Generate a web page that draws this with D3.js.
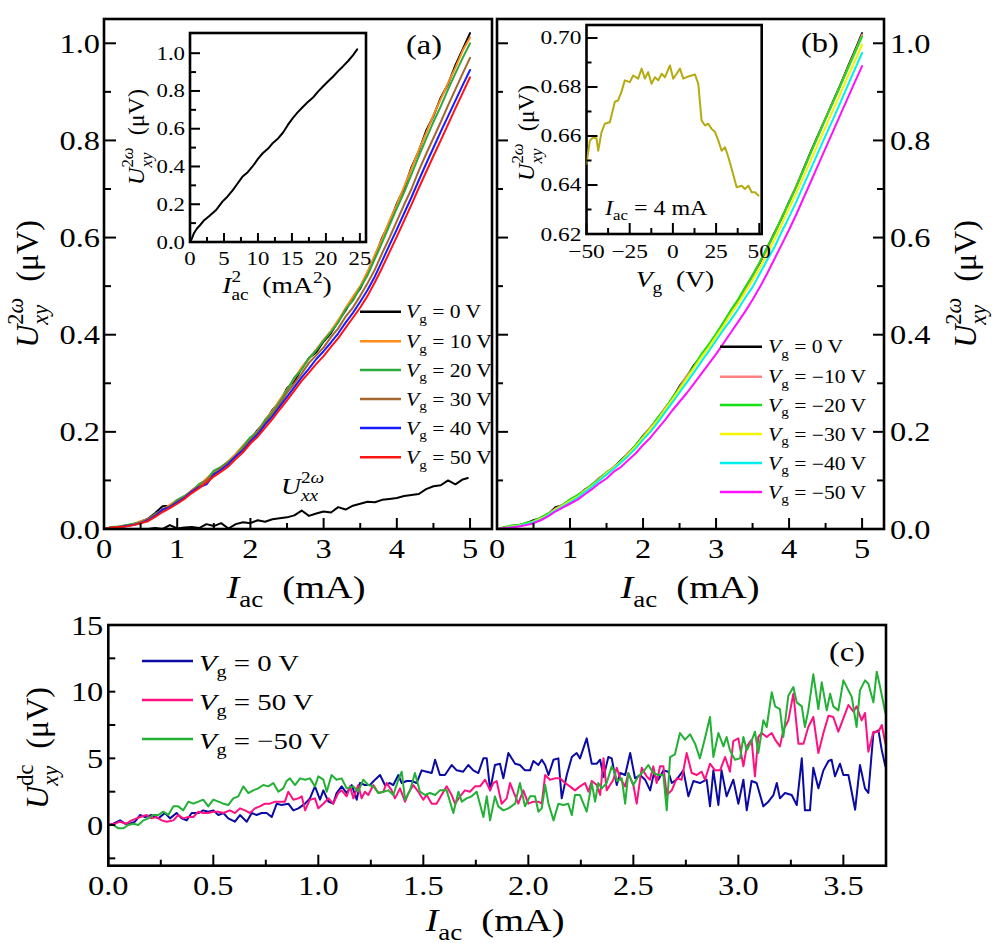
<!DOCTYPE html>
<html><head><meta charset="utf-8">
<script src="https://cdn.jsdelivr.net/npm/d3@7"></script>
<style>
html,body{margin:0;padding:0;background:#fff;}
svg{display:block;font-family:"Liberation Serif","Times New Roman",serif;}
text{white-space:pre;fill:#000;}
</style></head><body>
<svg id="fig" width="1001" height="943"></svg>
<script>
// ---------------- DATA ----------------
// panel (a) and (b): I_ac grid (mA)
const iGrid = [0,0.1,0.2,0.3,0.4,0.5,0.6,0.7,0.8,0.9,1.0,1.1,1.2,1.3,1.4,1.5,1.6,1.7,1.8,1.9,2.0,2.1,2.2,2.3,2.4,2.5,2.6,2.7,2.8,2.9,3.0,3.1,3.2,3.3,3.4,3.5,3.6,3.7,3.8,3.9,4.0,4.1,4.2,4.3,4.4,4.5,4.6,4.7,4.8,4.9,5.0];
const aLabels = ["0","10","20","30","40","50"];
const aColors = ["#000000","#ff8c1a","#2eaa3c","#a5652e","#1a1aff","#ff1414"];
const aVg0  = [0.000,0.003,0.004,0.007,0.009,0.015,0.021,0.033,0.047,0.048,0.058,0.067,0.079,0.091,0.101,0.116,0.125,0.138,0.151,0.169,0.185,0.204,0.221,0.245,0.261,0.290,0.304,0.331,0.352,0.364,0.386,0.403,0.428,0.450,0.476,0.495,0.527,0.560,0.600,0.631,0.670,0.701,0.745,0.778,0.820,0.850,0.888,0.916,0.955,0.988,1.021];
const aVg10 = [0.000,0.002,0.005,0.006,0.010,0.016,0.020,0.030,0.040,0.050,0.060,0.066,0.080,0.090,0.104,0.118,0.127,0.140,0.155,0.172,0.188,0.202,0.225,0.243,0.266,0.287,0.310,0.333,0.350,0.370,0.390,0.408,0.430,0.455,0.478,0.500,0.530,0.565,0.598,0.635,0.668,0.705,0.742,0.780,0.815,0.852,0.885,0.918,0.950,0.985,1.012];
const aVg20 = [0.000,0.004,0.005,0.008,0.011,0.014,0.019,0.031,0.038,0.046,0.060,0.068,0.077,0.093,0.100,0.120,0.128,0.139,0.150,0.170,0.189,0.200,0.224,0.240,0.262,0.285,0.312,0.328,0.352,0.368,0.388,0.406,0.425,0.452,0.470,0.497,0.522,0.556,0.590,0.625,0.660,0.693,0.730,0.767,0.803,0.838,0.870,0.905,0.938,0.970,1.000];
const aVg30 = [0.000,0.003,0.004,0.006,0.009,0.013,0.020,0.029,0.040,0.047,0.056,0.066,0.078,0.088,0.101,0.112,0.126,0.136,0.149,0.165,0.183,0.198,0.218,0.236,0.257,0.280,0.300,0.320,0.342,0.358,0.374,0.395,0.413,0.437,0.456,0.480,0.506,0.534,0.568,0.600,0.634,0.668,0.700,0.738,0.772,0.805,0.838,0.872,0.905,0.938,0.970];
const aVg40 = [0.000,0.002,0.003,0.006,0.008,0.012,0.018,0.027,0.040,0.045,0.055,0.064,0.077,0.086,0.092,0.112,0.122,0.134,0.150,0.162,0.180,0.195,0.215,0.232,0.252,0.272,0.292,0.312,0.330,0.350,0.366,0.384,0.403,0.425,0.445,0.468,0.492,0.520,0.552,0.585,0.617,0.650,0.683,0.718,0.752,0.785,0.818,0.850,0.882,0.914,0.945];
const aVg50 = [0.000,0.003,0.004,0.005,0.008,0.012,0.016,0.025,0.035,0.043,0.052,0.062,0.074,0.084,0.096,0.108,0.118,0.129,0.144,0.158,0.176,0.190,0.208,0.226,0.246,0.265,0.285,0.305,0.322,0.340,0.356,0.375,0.393,0.414,0.435,0.456,0.480,0.508,0.538,0.570,0.602,0.635,0.668,0.702,0.735,0.768,0.800,0.833,0.866,0.898,0.930];
// U_xx^{2w}
const xxI = [0.5,0.6,0.7,0.8,0.9,1.0,1.1,1.2,1.3,1.4,1.5,1.6,1.7,1.8,1.9,2.0,2.1,2.2,2.3,2.4,2.5,2.6,2.7,2.8,2.9,3.0,3.1,3.2,3.3,3.4,3.5,3.6,3.7,3.8,3.9,4.0,4.1,4.2,4.3,4.4,4.5,4.6,4.7,4.8,4.9,4.97];
const xxU = [0.000,0.000,0.002,0.000,0.008,0.001,0.003,0.004,0.002,0.010,0.006,0.012,0.001,0.010,0.014,0.012,0.018,0.015,0.020,0.022,0.024,0.028,0.038,0.027,0.032,0.036,0.034,0.045,0.040,0.048,0.052,0.056,0.055,0.060,0.062,0.064,0.068,0.070,0.072,0.082,0.088,0.090,0.100,0.092,0.102,0.105];
// inset (a): U vs I^2
const insAI2 = [0,0.3,0.6,1.0,1.5,2.0,2.8,3.8,4.8,5.5,6.3,7.0,7.7,8.5,9.2,10.0,10.7,11.5,12.2,13.0,13.7,14.4,15.1,15.8,16.6,17.3,18.1,18.8,19.6,20.3,21.1,21.8,22.5,23.3,24.0,24.6];
const insAU  = [0,0.02,0.048,0.07,0.09,0.112,0.136,0.168,0.215,0.24,0.275,0.31,0.345,0.37,0.40,0.44,0.47,0.495,0.525,0.55,0.58,0.62,0.655,0.685,0.715,0.74,0.765,0.795,0.825,0.85,0.878,0.905,0.93,0.96,0.99,1.02];
// panel (b)
const bLabels = ["0","−10","−20","−30","−40","−50"];
const bColors = ["#000000","#ff8080","#18e018","#f5f500","#00f0f0","#ff10ff"];
const bVg0   = [0.000,0.002,0.006,0.008,0.012,0.018,0.022,0.030,0.045,0.049,0.060,0.068,0.081,0.090,0.104,0.116,0.127,0.142,0.156,0.172,0.192,0.208,0.228,0.248,0.268,0.294,0.314,0.338,0.356,0.376,0.400,0.424,0.448,0.470,0.496,0.522,0.548,0.578,0.610,0.640,0.674,0.706,0.742,0.778,0.812,0.846,0.880,0.914,0.950,0.985,1.021];
const bVgm10 = [0.000,0.003,0.005,0.009,0.011,0.016,0.023,0.031,0.042,0.050,0.058,0.069,0.080,0.091,0.106,0.114,0.128,0.140,0.158,0.170,0.190,0.210,0.226,0.250,0.266,0.292,0.316,0.334,0.358,0.374,0.398,0.422,0.446,0.472,0.494,0.520,0.550,0.576,0.608,0.642,0.672,0.708,0.740,0.776,0.810,0.846,0.878,0.912,0.948,0.982,1.018];
const bVgm20 = [0.000,0.004,0.007,0.008,0.013,0.016,0.024,0.032,0.040,0.050,0.061,0.070,0.079,0.092,0.103,0.117,0.126,0.141,0.155,0.173,0.190,0.207,0.229,0.247,0.270,0.290,0.312,0.336,0.360,0.380,0.402,0.425,0.450,0.472,0.498,0.522,0.550,0.580,0.608,0.641,0.672,0.705,0.740,0.776,0.810,0.845,0.878,0.912,0.946,0.980,1.014];
const bVgm30 = [0.000,0.002,0.005,0.007,0.010,0.015,0.021,0.029,0.040,0.048,0.058,0.066,0.078,0.089,0.101,0.115,0.126,0.139,0.154,0.170,0.188,0.206,0.224,0.246,0.266,0.288,0.310,0.332,0.354,0.374,0.396,0.418,0.442,0.464,0.488,0.512,0.538,0.566,0.596,0.628,0.660,0.692,0.726,0.760,0.794,0.828,0.862,0.896,0.930,0.963,0.997];
const bVgm40 = [0.000,0.001,0.004,0.006,0.010,0.014,0.019,0.028,0.038,0.046,0.055,0.064,0.076,0.087,0.100,0.112,0.124,0.137,0.151,0.166,0.184,0.200,0.219,0.240,0.260,0.281,0.302,0.323,0.345,0.366,0.388,0.410,0.430,0.452,0.476,0.498,0.526,0.554,0.580,0.612,0.642,0.674,0.708,0.742,0.776,0.810,0.843,0.877,0.912,0.946,0.980];
const bVgm50 = [0.000,0.002,0.003,0.005,0.008,0.012,0.018,0.026,0.036,0.044,0.052,0.060,0.071,0.082,0.094,0.104,0.118,0.128,0.142,0.156,0.173,0.188,0.206,0.224,0.244,0.262,0.280,0.300,0.320,0.340,0.360,0.382,0.404,0.426,0.448,0.472,0.498,0.526,0.556,0.586,0.616,0.648,0.682,0.716,0.750,0.784,0.818,0.852,0.886,0.920,0.953];
// inset (b): U vs Vg at I_ac = 4 mA
const insBV = [-50,-48.1,-46.1,-44.2,-43.2,-41.3,-39.4,-36.5,-33.6,-31.7,-29.8,-27.8,-24.9,-23,-20.1,-18.1,-16.2,-14.3,-12.4,-10.4,-8.5,-6.5,-4.6,-1.7,0.2,2.2,4.1,6.0,8.9,12.8,14.7,16.6,18.6,20.5,22.4,24.4,26.3,28.2,30.2,32.1,34.0,36.9,39.8,41.7,43.7,45.6,47.5,49.5];
const insBU = [0.6486,0.658,0.6595,0.659,0.654,0.6616,0.665,0.6656,0.674,0.6745,0.678,0.6827,0.682,0.6847,0.6834,0.6875,0.6834,0.6861,0.6813,0.684,0.6827,0.6854,0.684,0.6888,0.6834,0.6854,0.6875,0.6834,0.6843,0.6851,0.6813,0.6663,0.6643,0.665,0.6629,0.6616,0.6581,0.654,0.6554,0.6513,0.6466,0.6391,0.6397,0.6384,0.6397,0.637,0.637,0.6357];
// panel (c): [I_ac (mA), U_xy^dc (uV)]
const cLabels = ["0","50","−50"];
const cColors = ["#0a0aa5","#ff1080","#22b035"];
const cVg0 = [[0,0],[0.024,0.1],[0.056,0.35],[0.079,0.1],[0.103,0.1],[0.127,0.25],[0.151,0.75],[0.175,0.6],[0.206,0.75],[0.238,0.5],[0.27,0.9],[0.294,0.5],[0.325,0.9],[0.349,0.5],[0.373,0.35],[0.397,0.9],[0.429,0.9],[0.452,1.1],[0.476,1.0],[0.5,1.1],[0.524,0.75],[0.548,0.9],[0.571,0.5],[0.603,0.25],[0.627,0.75],[0.659,0.25],[0.683,0.9],[0.706,0.75],[0.73,0.9],[0.754,0.9],[0.778,0.6],[0.802,1.6],[0.825,1.5],[0.857,1.6],[0.881,1.1],[0.905,1.25],[0.937,1.6],[0.96,2.0],[0.984,2.9],[1.008,1.9],[1.024,2.6],[1.048,1.75],[1.071,1.6],[1.087,2.4],[1.111,2.9],[1.135,2.4],[1.159,3.0],[1.183,1.9],[1.198,3.15],[1.222,3.0],[1.246,3.0],[1.27,3.4],[1.294,3.75],[1.317,3.0],[1.341,3.15],[1.357,3.0],[1.381,3.75],[1.397,3.15],[1.421,3.3],[1.444,3.3],[1.468,3.15],[1.492,4.1],[1.516,4.0],[1.54,3.9],[1.556,4.9],[1.579,3.75],[1.603,3.75],[1.635,4.5],[1.659,4.1],[1.69,4.0],[1.714,4.5],[1.738,4.1],[1.762,3.9],[1.786,5.0],[1.802,5.0],[1.818,2.6],[1.841,4.5],[1.865,4.6],[1.881,3.5],[1.905,5.4],[1.937,4.6],[1.96,4.5],[1.984,4.1],[2.008,4.1],[2.024,4.8],[2.048,4.5],[2.064,4.9],[2.08,4.5],[2.096,3.75],[2.12,4.9],[2.143,5.0],[2.159,2.0],[2.183,3.75],[2.207,5.1],[2.23,5.4],[2.246,5.0],[2.278,6.5],[2.302,4.6],[2.326,4.6],[2.342,4.9],[2.358,3.6],[2.381,5.1],[2.397,5.0],[2.421,3.0],[2.437,3.9],[2.461,3.75],[2.485,5.4],[2.508,3.5],[2.532,3.75],[2.556,3.4],[2.58,2.6],[2.596,3.75],[2.619,3.4],[2.643,4.1],[2.667,4.0],[2.683,3.15],[2.706,3.4],[2.738,4.1],[2.762,2.15],[2.786,3.3],[2.817,3.15],[2.849,3.4],[2.865,1.4],[2.881,4.1],[2.905,1.5],[2.92,4.1],[2.944,2.15],[2.976,3.4],[3.0,1.6],[3.024,3.4],[3.04,1.1],[3.063,3.3],[3.087,3.15],[3.119,1.4],[3.143,1.75],[3.167,2.25],[3.183,3.15],[3.198,2.0],[3.222,2.4],[3.254,2.25],[3.278,1.5],[3.302,5.0],[3.317,1.1],[3.341,1.1],[3.357,4.3],[3.381,2.75],[3.405,4.1],[3.429,4.8],[3.444,4.9],[3.46,3.65],[3.484,4.6],[3.5,3.75],[3.524,3.75],[3.556,1.15],[3.579,4.5],[3.603,2.75],[3.619,2.4],[3.643,6.9],[3.667,7.1],[3.683,5.6],[3.70,4.4]];
const cVg50 = [[0,0],[0.032,0.1],[0.056,0.25],[0.087,0.1],[0.111,0.35],[0.135,0.5],[0.151,0.6],[0.183,0.75],[0.206,0.5],[0.23,0.6],[0.254,0.35],[0.278,0.25],[0.31,0.35],[0.333,0.75],[0.357,0.5],[0.381,0.6],[0.405,0.6],[0.429,1.0],[0.452,0.9],[0.476,0.9],[0.5,1.0],[0.524,1.0],[0.548,0.9],[0.579,1.1],[0.603,0.9],[0.627,1.25],[0.651,1.1],[0.675,0.9],[0.698,1.25],[0.722,1.4],[0.746,1.6],[0.77,1.6],[0.794,1.75],[0.817,1.75],[0.841,1.75],[0.857,2.5],[0.881,1.9],[0.905,2.0],[0.921,2.15],[0.937,1.1],[0.96,1.9],[0.984,2.0],[1.0,1.25],[1.024,1.6],[1.048,2.0],[1.071,1.6],[1.095,2.4],[1.111,2.6],[1.135,2.15],[1.151,2.9],[1.167,2.0],[1.19,3.0],[1.206,2.0],[1.222,2.5],[1.238,2.25],[1.262,3.0],[1.286,2.4],[1.31,2.5],[1.325,3.15],[1.349,2.6],[1.365,2.0],[1.389,2.75],[1.413,1.75],[1.429,2.4],[1.452,3.0],[1.476,2.5],[1.5,1.9],[1.516,2.25],[1.54,1.6],[1.563,1.6],[1.587,2.25],[1.611,2.9],[1.635,2.25],[1.651,1.6],[1.675,2.15],[1.698,2.6],[1.722,2.5],[1.746,2.9],[1.77,2.9],[1.794,3.4],[1.818,2.6],[1.833,3.15],[1.849,3.3],[1.873,1.6],[1.897,2.0],[1.913,3.15],[1.929,2.5],[1.952,1.6],[1.976,2.6],[2.0,1.6],[2.024,1.75],[2.048,1.75],[2.064,1.6],[2.08,3.75],[2.103,3.4],[2.127,3.5],[2.151,3.5],[2.175,3.15],[2.198,2.9],[2.222,2.6],[2.246,2.9],[2.27,3.15],[2.286,2.5],[2.302,3.3],[2.326,3.0],[2.342,2.25],[2.358,5.0],[2.373,2.6],[2.389,3.0],[2.405,3.4],[2.421,4.3],[2.437,3.5],[2.461,2.9],[2.476,3.9],[2.5,3.0],[2.516,1.6],[2.54,4.3],[2.563,3.65],[2.579,3.4],[2.595,4.4],[2.611,3.15],[2.627,4.4],[2.643,4.4],[2.659,2.25],[2.683,2.6],[2.706,3.5],[2.73,3.4],[2.754,5.4],[2.778,3.9],[2.802,3.75],[2.825,4.0],[2.841,3.4],[2.865,4.6],[2.889,4.1],[2.913,4.1],[2.937,5.1],[2.96,4.0],[2.976,6.3],[3.0,6.5],[3.024,4.4],[3.04,5.9],[3.063,6.4],[3.079,3.65],[3.095,6.6],[3.111,6.9],[3.135,6.6],[3.159,6.9],[3.175,6.4],[3.198,5.9],[3.214,7.1],[3.238,7.85],[3.262,9.85],[3.286,6.1],[3.31,6.1],[3.333,7.35],[3.357,8.1],[3.381,5.4],[3.405,6.9],[3.429,8.2],[3.452,8.1],[3.476,7.0],[3.5,8.0],[3.524,9.0],[3.548,8.5],[3.563,8.9],[3.587,7.85],[3.603,8.4],[3.619,5.5],[3.643,7.0],[3.667,7.0],[3.683,7.5],[3.70,6.1]];
const cVgm50 = [[0,0],[0.024,0.0],[0.048,-0.25],[0.071,-0.25],[0.095,0.0],[0.119,0.1],[0.143,0.0],[0.167,0.35],[0.19,0.5],[0.214,0.75],[0.238,0.75],[0.262,1.0],[0.286,0.75],[0.31,1.4],[0.333,1.4],[0.357,1.1],[0.381,1.75],[0.405,1.6],[0.429,1.75],[0.452,1.9],[0.476,1.4],[0.5,1.9],[0.524,1.75],[0.548,1.6],[0.571,1.5],[0.595,2.0],[0.619,2.15],[0.643,2.9],[0.667,2.4],[0.69,2.6],[0.714,2.75],[0.738,3.0],[0.762,2.9],[0.786,3.15],[0.81,2.5],[0.833,2.75],[0.849,3.3],[0.865,3.5],[0.889,3.0],[0.913,3.5],[0.937,3.4],[0.96,3.5],[0.984,2.9],[1.0,3.65],[1.024,3.4],[1.04,2.5],[1.063,3.75],[1.087,3.4],[1.111,3.5],[1.135,2.75],[1.167,2.9],[1.19,2.5],[1.214,3.4],[1.238,3.0],[1.262,2.9],[1.286,2.4],[1.31,2.5],[1.333,2.6],[1.357,2.25],[1.381,3.4],[1.397,4.0],[1.413,1.9],[1.437,2.6],[1.46,3.9],[1.484,2.5],[1.508,2.25],[1.532,2.4],[1.556,2.25],[1.579,2.6],[1.611,2.6],[1.643,0.9],[1.667,2.5],[1.683,1.75],[1.706,2.0],[1.73,2.15],[1.754,2.5],[1.786,0.6],[1.802,2.15],[1.818,0.35],[1.841,2.15],[1.857,1.4],[1.881,1.1],[1.905,1.25],[1.937,1.6],[1.96,3.15],[1.984,1.4],[2.008,2.15],[2.032,2.15],[2.048,1.0],[2.064,1.25],[2.08,3.0],[2.096,1.6],[2.12,0.35],[2.143,1.6],[2.167,1.5],[2.19,1.6],[2.207,0.75],[2.222,2.25],[2.246,2.25],[2.278,1.0],[2.302,3.15],[2.318,1.75],[2.333,3.15],[2.35,2.75],[2.373,3.15],[2.397,4.4],[2.413,3.9],[2.421,3.3],[2.445,3.5],[2.461,1.6],[2.476,3.9],[2.5,3.0],[2.524,3.65],[2.548,4.0],[2.571,4.5],[2.595,3.9],[2.619,3.75],[2.643,3.75],[2.659,1.1],[2.675,5.1],[2.698,5.3],[2.722,6.9],[2.746,6.4],[2.77,6.8],[2.794,6.1],[2.817,5.0],[2.841,6.5],[2.865,8.1],[2.881,5.1],[2.905,6.9],[2.929,5.9],[2.944,6.6],[2.96,5.6],[2.984,4.9],[3.008,5.0],[3.024,6.6],[3.04,5.6],[3.063,6.3],[3.079,7.0],[3.095,5.4],[3.119,7.85],[3.135,7.35],[3.159,9.95],[3.175,8.9],[3.198,8.7],[3.214,6.6],[3.238,9.7],[3.262,10.35],[3.278,9.2],[3.302,8.9],[3.317,7.35],[3.333,8.6],[3.357,11.3],[3.381,8.7],[3.397,10.7],[3.421,8.6],[3.437,9.85],[3.452,8.9],[3.476,8.6],[3.5,10.85],[3.524,10.1],[3.54,9.6],[3.563,7.35],[3.579,10.1],[3.603,10.85],[3.619,10.6],[3.643,9.2],[3.659,11.5],[3.675,10.35],[3.70,8.4]];
// tick values
const abXTicks = [0,1,2,3,4,5];
const abYTicks = [0,0.2,0.4,0.6,0.8,1.0];
const insAXTicks = [0,5,10,15,20,25];
const insAYTicks = [0,0.2,0.4,0.6,0.8,1.0];
const insBXTicks = [-50,-25,0,25,50];
const insBYTicks = [0.62,0.64,0.66,0.68,0.70];
const cXTicks = [0,0.5,1.0,1.5,2.0,2.5,3.0,3.5];
const cYTicks = [0,5,10,15];

// ---------------- DRAWING ----------------
const svg = d3.select('#fig');
const SX = 1.2;

function rich(parent, x, y, size, parts, opt = {}) {
  const sx = opt.sx == null ? SX : opt.sx;
  const t = parent.append('text')
    .attr('font-size', size)
    .attr('text-anchor', opt.anchor || 'start')
    .attr('transform', `translate(${x},${y}) rotate(${opt.rot || 0}) scale(${sx},1)`);
  let cur = 0, pad = 0;
  const add = (txt, it, fs, dy, dx) => {
    const s = t.append('tspan').text(txt).attr('font-size', fs);
    if (it) s.attr('font-style', 'italic');
    if (dy) s.attr('dy', dy);
    if (dx) s.attr('dx', dx);
    return s.node().getComputedTextLength();
  };
  const seq = (arr, fs, dy, dx) => {
    let L = 0;
    arr.forEach((a, i) => { L += add(a[0], a[1], fs, i === 0 ? dy : 0, i === 0 ? dx : 0); });
    return L;
  };
  parts.forEach(p => {
    if (p.sup || p.sub) {
      const both = p.sup && p.sub;
      let L1 = 0, L2 = 0;
      if (p.sup) { const tg = (both ? -0.47 : -0.42) * size; L1 = seq(p.sup, size * 0.7, tg - cur, pad); cur = tg; pad = 0; }
      if (p.sub) { const tg = (both ? 0.32 : 0.27) * size; L2 = seq(p.sub, size * 0.7, tg - cur, p.sup ? -L1 : pad); cur = tg; pad = 0; }
      pad = both ? Math.max(0, L1 - L2) : 0;
    } else {
      add(p[0], p[1], size, -cur, pad); cur = 0; pad = 0;
    }
  });
  return t;
}
function plainText(g, x, y, str, size, anchor) {
  g.append('text').attr('transform', `translate(${x},${y}) scale(${SX},1)`)
    .attr('text-anchor', anchor).attr('font-size', size).text(str);
}
function xTicks(g, sx, y0, vals, len) {
  vals.forEach(v => g.append('line').attr('x1', sx(v)).attr('x2', sx(v)).attr('y1', y0).attr('y2', y0 - len)
    .attr('stroke', '#000').attr('stroke-width', 2));
}
function yTicks(g, sy, x0, vals, len) {
  vals.forEach(v => g.append('line').attr('y1', sy(v)).attr('y2', sy(v)).attr('x1', x0).attr('x2', x0 + len)
    .attr('stroke', '#000').attr('stroke-width', 2));
}
function mids(vals) { const m = []; for (let i = 0; i < vals.length - 1; i++) m.push((vals[i] + vals[i + 1]) / 2); return m; }
function curve(g, sx, sy, pts, color, w) {
  g.append('path').datum(pts)
    .attr('d', d3.line().x(d => sx(d[0])).y(d => sy(d[1])))
    .attr('fill', 'none').attr('stroke', color).attr('stroke-width', w)
    .attr('stroke-linejoin', 'round').attr('stroke-linecap', 'round');
}
function zip(xs, ys) { return xs.map((x, i) => [x, ys[i]]); }
function frameRect(g, l, t, r, b, fill) {
  g.append('rect').attr('x', l).attr('y', t).attr('width', r - l).attr('height', b - t)
    .attr('fill', fill || 'none').attr('stroke', '#000').attr('stroke-width', 2.6);
}
const f1 = d3.format('.1f'), f2 = d3.format('.2f');
const Uxy2w = [['U', 1], { sup: [['2', 0], ['ω', 1]], sub: [['xy', 1]] }, ['  (μV)', 0]];
const IacLbl = [['I', 1], { sub: [['ac', 0]] }, ['  (mA)', 0]];

// ===== Panel (a) =====
const A = { l: 104, r: 492, t: 19, b: 529 };
const xA = d3.scaleLinear([0, 5.3], [A.l, A.r]);
const yA = d3.scaleLinear([0, 1.05], [A.b, A.t]);
const gA = svg.append('g');
svg.append('clipPath').attr('id', 'clipA').append('rect').attr('x', A.l).attr('y', A.t).attr('width', A.r - A.l).attr('height', A.b - A.t);
const gAc = gA.append('g').attr('clip-path', 'url(#clipA)');
[aVg0, aVg10, aVg20, aVg30, aVg40, aVg50].forEach((s, i) => curve(gAc, xA, yA, zip(iGrid, s), aColors[i], 2));
curve(gAc, xA, yA, zip(xxI, xxU), '#000', 2);
rich(gA, 281, 494, 23, [['U', 1], { sup: [['2', 0], ['ω', 1]], sub: [['xx', 1]] }]);
// ticks
xTicks(gA, xA, A.b, abXTicks, 11);
xTicks(gA, xA, A.b, mids(abXTicks), 6);
yTicks(gA, yA, A.l, abYTicks, 12);
yTicks(gA, yA, A.l, mids(abYTicks), 7);
abYTicks.forEach(v => plainText(gA, A.l - 4, yA(v) + 9.5, f1(v), 27, 'end'));
abXTicks.forEach(v => plainText(gA, xA(v), 558, String(v), 27, 'middle'));
rich(gA, 296, 598, 32, IacLbl, { anchor: 'middle' });
rich(gA, 38, 284, 32, Uxy2w, { anchor: 'middle', rot: -90, sx: 1 });
rich(gA, 406, 54, 27, [['(a)', 0]]);
// legend (a)
const legAy = [311.7, 341.3, 370, 399, 428, 457.3];
aLabels.forEach((lab, i) => {
  gA.append('line').attr('x1', 360).attr('x2', 401).attr('y1', legAy[i]).attr('y2', legAy[i]).attr('stroke', aColors[i]).attr('stroke-width', 2.5);
  rich(gA, 406, legAy[i] + 6.5, 18, [['V', 1], { sub: [['g', 0]] }, [' = ' + lab + ' V', 0]]);
});
// inset (a)
const IA = { l: 190, r: 366, t: 33, b: 242 };
const xIA = d3.scaleLinear([0, 25.9], [IA.l, IA.r]);
const yIA = d3.scaleLinear([0, 1.107], [IA.b, IA.t]);
frameRect(gA, IA.l, IA.t, IA.r, IA.b, '#fff');
curve(gA, xIA, yIA, zip(insAI2, insAU), '#000', 2);
xTicks(gA, xIA, IA.b, insAXTicks, 9);
xTicks(gA, xIA, IA.b, mids(insAXTicks), 5);
yTicks(gA, yIA, IA.l, insAYTicks, 10);
yTicks(gA, yIA, IA.l, mids(insAYTicks), 6);
insAYTicks.forEach(v => plainText(gA, IA.l - 5, yIA(v) + 6.5, f1(v), 19, 'end'));
insAXTicks.forEach(v => plainText(gA, xIA(v), 265, String(v), 19, 'middle'));
rich(gA, 277, 293, 23, [['I', 1], { sup: [['2', 0]], sub: [['ac', 0]] }, ['  (mA', 0], { sup: [['2', 0]] }, [')', 0]], { anchor: 'middle' });
rich(gA, 144, 137, 24, Uxy2w, { anchor: 'middle', rot: -90, sx: 1 });
frameRect(gA, A.l, A.t, A.r, A.b);

// ===== Panel (b) =====
const B = { l: 497, r: 884, t: 19, b: 529 };
const xB = d3.scaleLinear([0, 5.3], [B.l, B.r]);
const yB = d3.scaleLinear([0, 1.05], [B.b, B.t]);
const gB = svg.append('g');
svg.append('clipPath').attr('id', 'clipB').append('rect').attr('x', B.l).attr('y', B.t).attr('width', B.r - B.l).attr('height', B.b - B.t);
const gBc = gB.append('g').attr('clip-path', 'url(#clipB)');
[bVg0, bVgm10, bVgm20, bVgm30, bVgm40, bVgm50].forEach((s, i) => curve(gBc, xB, yB, zip(iGrid, s), bColors[i], 2));
xTicks(gB, xB, B.b, abXTicks, 11);
xTicks(gB, xB, B.b, mids(abXTicks), 6);
yTicks(gB, yB, B.r, abYTicks, -11);
yTicks(gB, yB, B.r, mids(abYTicks), -7);
yTicks(gB, yB, B.l, abYTicks, 11);
yTicks(gB, yB, B.l, mids(abYTicks), 6);
abYTicks.forEach(v => plainText(gB, B.r + 6, yB(v) + 9.5, f1(v), 27, 'start'));
abXTicks.forEach(v => plainText(gB, xB(v), 558, String(v), 27, 'middle'));
rich(gB, 690, 598, 32, IacLbl, { anchor: 'middle' });
rich(gB, 976, 284, 32, Uxy2w, { anchor: 'middle', rot: -90, sx: 1 });
rich(gB, 801, 52, 27, [['(b)', 0]]);
const legBy = [346.7, 376.7, 405, 434, 463, 492];
bLabels.forEach((lab, i) => {
  gB.append('line').attr('x1', 720).attr('x2', 762).attr('y1', legBy[i]).attr('y2', legBy[i]).attr('stroke', bColors[i]).attr('stroke-width', 2.5);
  rich(gB, 768, legBy[i] + 6.5, 18, [['V', 1], { sub: [['g', 0]] }, [' = ' + lab + ' V', 0]]);
});
// inset (b)
const IB = { l: 586.5, r: 761.7, t: 25, b: 234 };
const xIB = d3.scaleLinear([-50, 51.4], [IB.l, IB.r]);
const yIB = d3.scaleLinear([0.62, 0.7053], [IB.b, IB.t]);
frameRect(gB, IB.l, IB.t, IB.r, IB.b, '#fff');
svg.append('clipPath').attr('id', 'clipIB').append('rect').attr('x', IB.l).attr('y', IB.t).attr('width', IB.r - IB.l).attr('height', IB.b - IB.t);
curve(gB.append('g').attr('clip-path', 'url(#clipIB)'), xIB, yIB, zip(insBV, insBU), '#b5aa10', 2);
xTicks(gB, xIB, IB.b, insBXTicks, 11);
xTicks(gB, xIB, IB.b, mids(insBXTicks), 6);
yTicks(gB, yIB, IB.l, insBYTicks, 11);
yTicks(gB, yIB, IB.l, mids(insBYTicks), 5);
insBYTicks.forEach(v => plainText(gB, IB.l - 5, yIB(v) + 6.5, f2(v), 19.5, 'end'));
insBXTicks.forEach(v => plainText(gB, xIB(v), 258, d3.format('d')(v), 19.5, 'middle'));
rich(gB, 675, 287, 23, [['V', 1], { sub: [['g', 0]] }, ['  (V)', 0]], { anchor: 'middle' });
rich(gB, 534, 133, 24, Uxy2w, { anchor: 'middle', rot: -90, sx: 1 });
rich(gB, 605, 215, 20, [['I', 1], { sub: [['ac', 0]] }, [' = 4 mA', 0]]);
frameRect(gB, B.l, B.t, B.r, B.b);

// ===== Panel (c) =====
const C = { l: 108.3, r: 886, t: 625, b: 865.7 };
const xC = d3.scaleLinear([0, 3.703], [C.l, C.r]);
const yC = d3.scaleLinear([-3.05, 15], [C.b, C.t]);
const gC = svg.append('g');
svg.append('clipPath').attr('id', 'clipC').append('rect').attr('x', C.l).attr('y', C.t).attr('width', C.r - C.l).attr('height', C.b - C.t);
const gCc = gC.append('g').attr('clip-path', 'url(#clipC)');
[cVg0, cVg50, cVgm50].forEach((s, i) => curve(gCc, xC, yC, s, cColors[i], 2));
xTicks(gC, xC, C.b, cXTicks, 11);
xTicks(gC, xC, C.b, mids(cXTicks), 6);
yTicks(gC, yC, C.l, cYTicks, 7);
yTicks(gC, yC, C.l, [-2.5].concat(mids(cYTicks)), 7);
cYTicks.forEach(v => plainText(gC, C.l - 5, yC(v) + 9.5, String(v), 27, 'end'));
cXTicks.forEach(v => plainText(gC, xC(v), 895, f1(v), 27, 'middle'));
rich(gC, 495, 931, 32, IacLbl, { anchor: 'middle' });
rich(gC, 48, 748, 32, [['U', 1], { sup: [['dc', 0]], sub: [['xy', 1]] }, ['  (μV)', 0]], { anchor: 'middle', rot: -90, sx: 1 });
rich(gC, 829, 661, 27, [['(c)', 0]]);
const legCy = [661, 700, 739];
cLabels.forEach((lab, i) => {
  gC.append('line').attr('x1', 142).attr('x2', 193).attr('y1', legCy[i]).attr('y2', legCy[i]).attr('stroke', cColors[i]).attr('stroke-width', 2.5);
  rich(gC, 199, legCy[i] + 10, 24, [['V', 1], { sub: [['g', 0]] }, [' = ' + lab + ' V', 0]]);
});
frameRect(gC, C.l, C.t, C.r, C.b);
</script>
</body></html>
